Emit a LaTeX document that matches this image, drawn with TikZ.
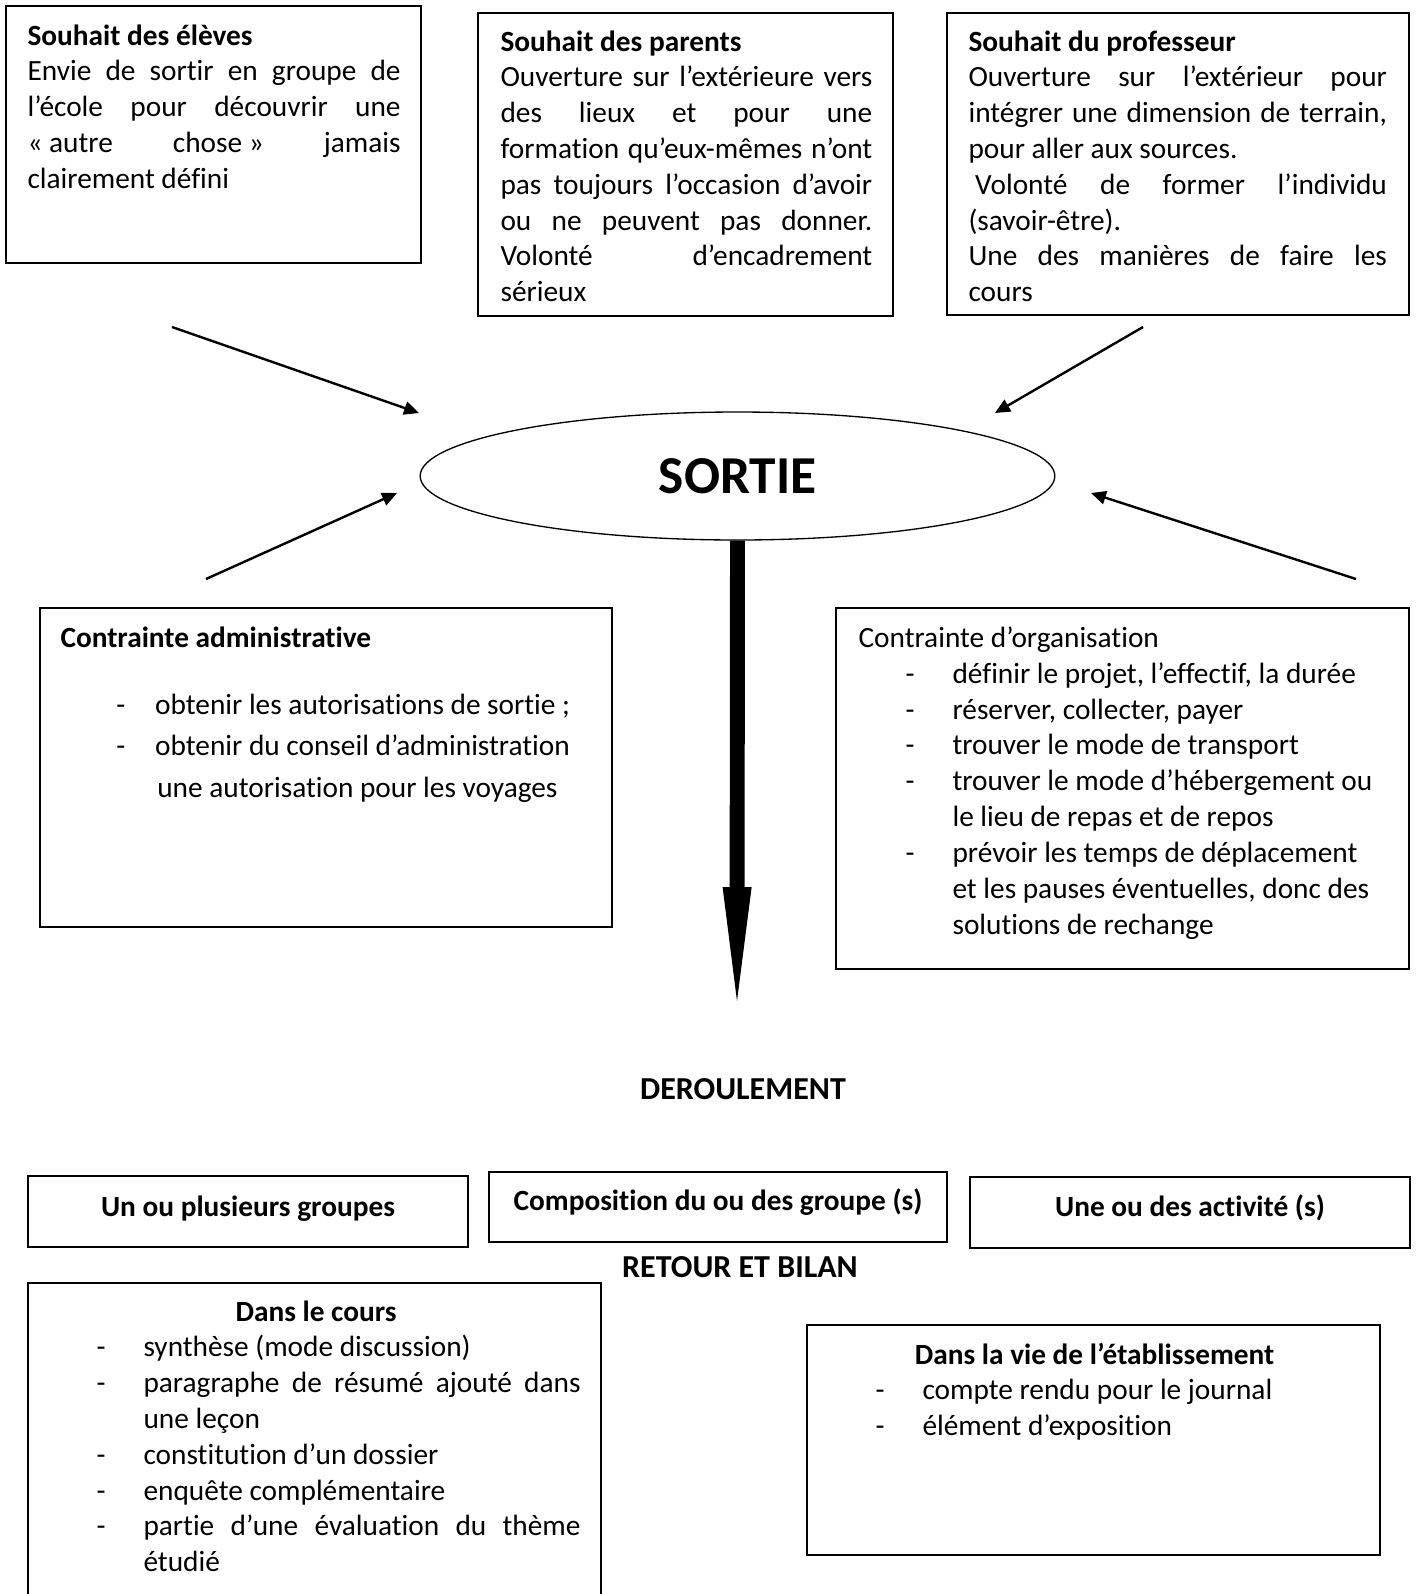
\documentclass[tikz,border=0pt]{standalone}
\usepackage{fontspec}
\setmainfont{Carlito}[Ligatures=CommonOff]
\usetikzlibrary{shapes.geometric,arrows.meta,fit}

\hyphenpenalty=10000
\tolerance=9999
\newlength{\retrait}
\newlength{\ecart}
\setlength{\ecart}{17.6pt}
% espaces normaux dans les cadres
\newcommand{\corps}{\spaceskip=0pt\xspaceskip=0pt}
% tiret de liste : le texte commence a \retrait
\newcommand{\tiret}{\par\leftskip=\retrait\noindent\llap{\makebox[\ecart][l]{-}}}

\begin{document}
\begin{tikzpicture}[x=0.375pt, y=-0.375pt,
    boite/.style={draw, line width=0.7pt, inner sep=0pt},
    texte/.style={inner sep=0pt, anchor=base west, align=justify, font=\fontsize{11}{13.43}\selectfont},
    titre/.style={inner sep=0pt, anchor=base, font=\fontsize{11}{13.43}\selectfont\bfseries},
    etape/.style={titre, font=\fontsize{12}{14.6}\selectfont\bfseries},
    fleche/.style={line width=0.9pt, -{Triangle[length=5.6pt, width=5pt]}},
    grossefleche/.style={line width=5.6pt, -{Triangle[length=42.75pt, width=10.9pt, line width=0pt]}}]
  \useasboundingbox (0,0) rectangle (1418,1594);
  \clip (0,0) rectangle (1418,1594);

  % Les trois souhaits
  \node[boite, fit={(6,6) (421,263)}] (b-eleves) {};
  \node[texte, text width=139.9pt] (t-eleves) at (27,45) {\corps\textbf{Souhait des élèves}\\
    Envie de sortir en groupe de\linebreak
    l’école pour découvrir une\linebreak
    \mbox{« autre} \mbox{chose »} jamais\linebreak
    clairement défini\par};

  \node[boite, fit={(478,13) (893,316)}] (b-parents) {};
  \node[texte, text width=139.4pt] (t-parents) at (500,51) {\corps\textbf{Souhait des parents}\\
    Ouverture sur l’extérieure vers\linebreak
    des lieux et pour une\linebreak
    formation qu’eux-mêmes n’ont\linebreak
    pas toujours l’occasion d’avoir\linebreak
    ou ne peuvent pas donner.\linebreak
    Volonté d’encadrement\linebreak
    sérieux\par};

  \node[boite, fit={(947,13) (1409,315)}] (b-prof) {};
  \node[texte, text width=156.9pt] (t-prof) at (968,51) {\corps\textbf{Souhait du professeur}\\
    Ouverture sur l’extérieur pour\linebreak
    intégrer une dimension de terrain,\linebreak
    pour aller aux sources.\\
    \hspace*{2.5pt}Volonté de former l’individu\linebreak
    (savoir-être).\\
    Une des manières de faire les\linebreak
    cours\par};

  % Sortie
  \node[draw, ellipse, line width=0.5pt, inner sep=0pt, minimum width=238pt, minimum height=48pt,
        font=\fontsize{20}{24}\selectfont\bfseries] (sortie) at (737.5,476) {SORTIE};

  \coordinate (dep-eleves) at (172,327);
  \coordinate (pointe-eleves) at (419,413);
  \coordinate (dep-prof) at (1143,327);
  \coordinate (pointe-prof) at (995,413);
  \coordinate (dep-admin) at (206,579);
  \coordinate (pointe-admin) at (397,493);
  \coordinate (dep-orga) at (1356,579);
  \coordinate (pointe-orga) at (1091,493);
  \coordinate (bas-fleche) at (737,1001);

  \draw[fleche] (dep-eleves) -- (pointe-eleves);
  \draw[fleche] (dep-prof) -- (pointe-prof);
  \draw[fleche] (dep-admin) -- (pointe-admin);
  \draw[fleche] (dep-orga) -- (pointe-orga);
  \draw[grossefleche] (sortie.south) -- (bas-fleche);

  % Contraintes
  \node[boite, fit={(40,608) (612,927)}] (b-admin) {};
  \node[texte, text width=202pt, font=\fontsize{11}{15.55}\selectfont] (t-admin) at (60,647) {\raggedright\corps
    \setlength{\retrait}{35.5pt}\setlength{\ecart}{14.6pt}%
    \textbf{Contrainte administrative}\par\vspace{9.6pt}
    \tiret obtenir les autorisations de sortie~;
    \tiret obtenir du conseil d’administration\\\hspace*{0.8pt}une autorisation pour les voyages\par};

  \node[boite, fit={(836,608) (1409,969)}] (b-orga) {};
  \node[texte, text width=200pt] (t-orga) at (858,647.5) {\raggedright\corps\setlength{\retrait}{35.25pt}%
    Contrainte d’organisation
    \tiret définir le projet, l’effectif, la durée
    \tiret réserver, collecter, payer
    \tiret trouver le mode de transport
    \tiret trouver le mode d’hébergement ou\\le lieu de repas et de repos
    \tiret prévoir les temps de déplacement\\et les pauses éventuelles, donc des\\solutions de rechange\par};

  % Deroulement
  \node[etape] (deroulement) at (743,1099) {DEROULEMENT};

  \node[boite, fit={(28,1176) (468,1247)}] (b-groupes) {};
  \node[titre] (t-groupes) at (248,1216) {Un ou plusieurs groupes};
  \node[boite, fit={(489,1172) (947,1242)}] (b-compo) {};
  \node[titre] (t-compo) at (718,1210) {Composition du ou des groupe (s)};
  \node[boite, fit={(970,1177) (1410,1248)}] (b-activites) {};
  \node[titre] (t-activites) at (1190,1216) {Une ou des activité (s)};

  % Retour et bilan
  \node[etape] (retour) at (740,1277) {RETOUR ET BILAN};

  \node[boite, fit={(28,1283) (601,1620)}] (b-cours) {};
  \node[texte, text width=198.4pt] (t-cours) at (51,1321) {\corps\setlength{\retrait}{34.5pt}%
    {\centering\textbf{Dans le cours}\par}
    \tiret synthèse (mode discussion)
    \tiret paragraphe de résumé ajouté dans\linebreak une leçon
    \tiret constitution d’un dossier
    \tiret enquête complémentaire
    \tiret partie d’une évaluation du thème\linebreak étudié\par};

  \node[boite, fit={(807,1325) (1380,1555)}] (b-vie) {};
  \node[texte, text width=198pt] (t-vie) at (830,1364) {\raggedright\corps\setlength{\retrait}{34.5pt}%
    {\centering\textbf{Dans la vie de l’établissement}\par}
    \tiret compte rendu pour le journal
    \tiret élément d’exposition\par};
\end{tikzpicture}
\end{document}
